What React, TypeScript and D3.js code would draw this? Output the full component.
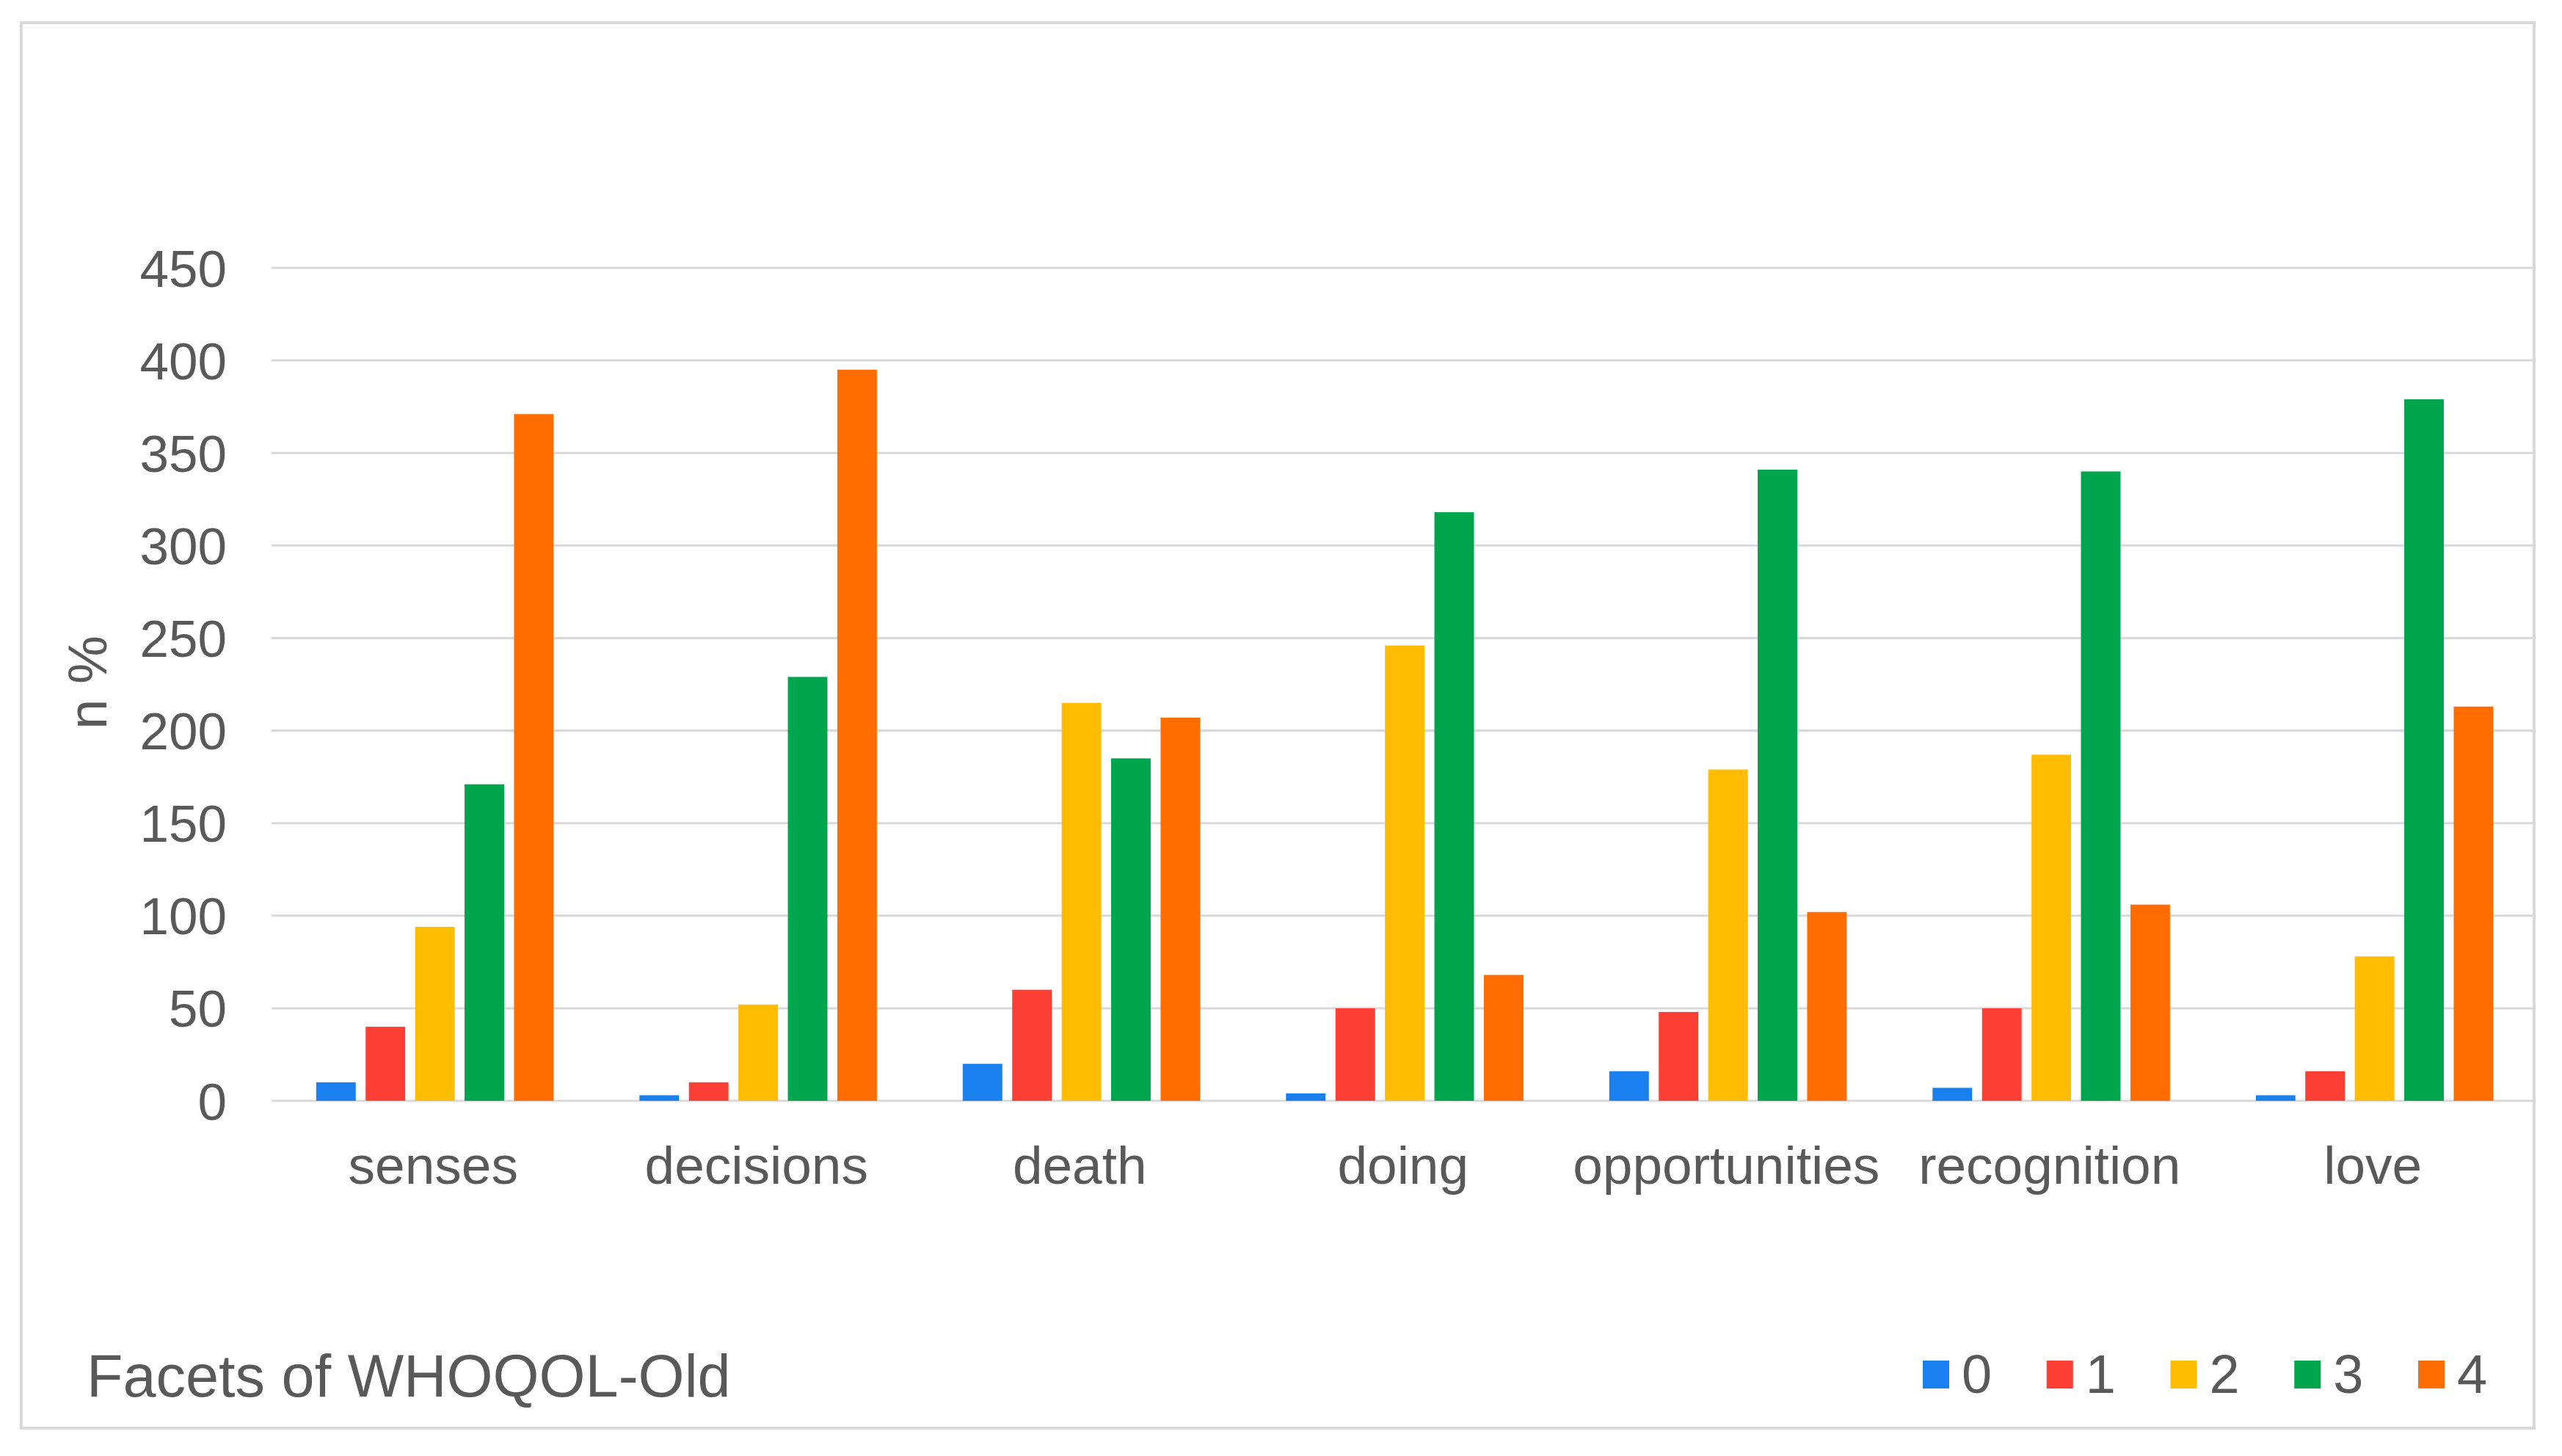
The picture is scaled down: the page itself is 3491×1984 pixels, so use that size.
import React from "react";
import * as d3 from "d3";

const categories = ["senses", "decisions", "death", "doing", "opportunities", "recognition", "love"];
const seriesNames = ["0", "1", "2", "3", "4"];
const values0 = [10, 3, 20, 4, 16, 7, 3];
const values1 = [40, 10, 60, 50, 48, 50, 16];
const values2 = [94, 52, 215, 246, 179, 187, 78];
const values3 = [171, 229, 185, 318, 341, 340, 379];
const values4 = [371, 395, 207, 68, 102, 106, 213];
const seriesValues = [values0, values1, values2, values3, values4];
const colors = ["#1a80ee", "#fb3f35", "#ffbc00", "#00a54e", "#ff6c00"];
const yTicks = [0, 50, 100, 150, 200, 250, 300, 350, 400, 450];
const xTitle = "Facets of WHOQOL-Old";
const yTitle = "n %";

const W = 3491;
const H = 1984;
const FONT = "'Liberation Sans', Arial, sans-serif";
const TEXT = "#595959";
const GRID = "#d9d9d9";

export default function App() {
  const x = d3.scaleBand<string>().domain(categories).range([370, 3453.5]).paddingInner(0).paddingOuter(0);
  const xi = d3
    .scaleBand<string>()
    .domain(seriesNames)
    .range([0, x.bandwidth()])
    .paddingInner(0.2)
    .paddingOuter(0.8675)
    .align(0.52);
  const y = d3.scaleLinear().domain([0, 450]).range([1500, 365]);

  const legendX = d3.scaleLinear().domain([0, 4]).range([2620, 3295]);

  return (
    <svg
      width={W}
      height={H}
      viewBox={`0 0 ${W} ${H}`}
      style={{ position: "absolute", left: 0, top: 0, background: "#fff" }}
      fontFamily={FONT}
    >
      <rect x={0} y={0} width={W} height={H} fill="#fff" />
      <rect x={29} y={31} width={3424} height={1915} fill="none" stroke={GRID} strokeWidth={4} />

      {yTicks.map((t) => (
        <g key={t}>
          <line x1={370} x2={3451} y1={y(t)} y2={y(t)} stroke={GRID} strokeWidth={3} />
          <text x={309} y={y(t)} dy="0.36em" textAnchor="end" fontSize={71} fill={TEXT}>
            {t}
          </text>
        </g>
      ))}

      <text
        transform={`translate(145, 930) rotate(-90)`}
        textAnchor="middle"
        fontSize={74}
        fill={TEXT}
      >
        {yTitle}
      </text>

      {categories.map((c, ci) => (
        <g key={c} transform={`translate(${x(c)},0)`}>
          {seriesNames.map((s, si) => {
            const v = seriesValues[si][ci];
            return (
              <rect
                key={s}
                x={xi(s)}
                y={y(v)}
                width={xi.bandwidth()}
                height={y(0) - y(v)}
                fill={colors[si]}
              />
            );
          })}
          <text x={x.bandwidth() / 2} y={1613} textAnchor="middle" fontSize={73} fill={TEXT}>
            {c}
          </text>
        </g>
      ))}

      <text x={118} y={1903} fontSize={81} fill={TEXT}>
        {xTitle}
      </text>

      {seriesNames.map((s, si) => (
        <g key={s} transform={`translate(${legendX(si)},0)`}>
          <rect x={0} y={1854} width={36} height={38} fill={colors[si]} />
          <text x={53} y={1898} fontSize={74} fill={TEXT}>
            {s}
          </text>
        </g>
      ))}
    </svg>
  );
}
